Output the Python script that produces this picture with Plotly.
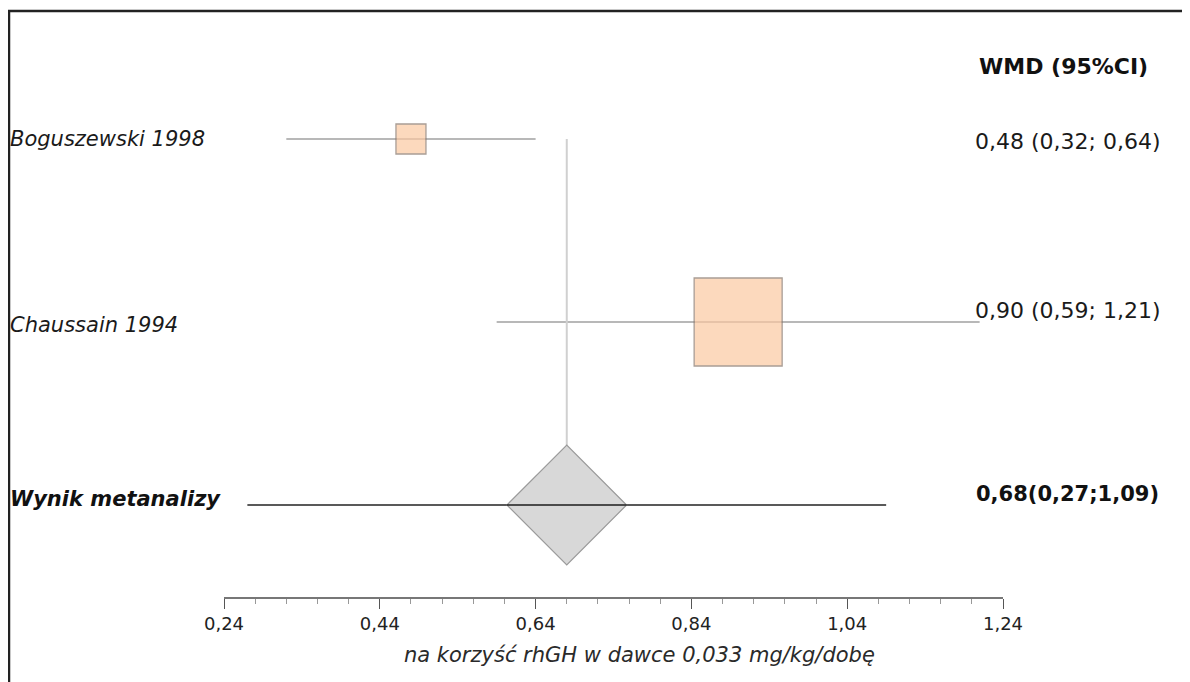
import plotly.graph_objects as go

# ---- data ----
studies = ["Boguszewski 1998", "Chaussain 1994"]
wmd = [0.48, 0.90]
ci_low = [0.32, 0.59]
ci_high = [0.64, 1.21]
study_labels = ["0,48 (0,32; 0,64)", "0,90 (0,59; 1,21)"]
weight_size = [30, 88]  # marker sizes (relative weights)

meta_label = "Wynik metanalizy"
meta_wmd = 0.68
meta_low = 0.27
meta_high = 1.09
meta_text = "0,68(0,27;1,09)"

header = "WMD (95%CI)"
x_title = "na korzyść rhGH w dawce 0,033 mg/kg/dobę"
tick_vals = [0.24, 0.44, 0.64, 0.84, 1.04, 1.24]
tick_text = ["0,24", "0,44", "0,64", "0,84", "1,04", "1,24"]

# ---- layout constants (page has an 8px body margin) ----
OFF = 8
W, H = 1190 - OFF, 682 - OFF
L = 224 - OFF
PLOT_RIGHT = 1003 - OFF
AXIS_Y = 597 - OFF
R = W - PLOT_RIGHT
T = 0
B = H - AXIS_Y
PW = W - L - R
PH = H - T - B

def px(xpix):
    return (xpix - OFF - L) / PW

def py(ypix):
    return (H - B - (ypix - OFF)) / PH

def ry(ypix):
    return ypix - OFF

row_y = [ry(139), ry(322)]
meta_y = ry(505)

FONT = "DejaVu Sans"
fig = go.Figure()

for i in range(len(studies)):
    fig.add_trace(go.Scatter(x=[ci_low[i], ci_high[i]], y=[row_y[i], row_y[i]], mode="lines",
                             line=dict(color="#a0a0a0", width=1.5), hoverinfo="skip", showlegend=False))

fig.add_trace(go.Scatter(x=[meta_low, meta_high], y=[meta_y, meta_y], mode="lines",
                         line=dict(color="#222222", width=1.5), hoverinfo="skip", showlegend=False))

fig.add_trace(go.Scatter(x=[meta_wmd, meta_wmd], y=[row_y[0], meta_y - 60], mode="lines",
                         line=dict(color="#d0d0d0", width=2), hoverinfo="skip", showlegend=False))

fig.add_trace(go.Scatter(x=wmd, y=row_y, mode="markers",
                         marker=dict(symbol="square", size=weight_size, color="#fbc9a2",
                                     line=dict(color="#85756a", width=1.3)),
                         hoverinfo="skip", showlegend=False))

fig.add_trace(go.Scatter(x=[meta_wmd], y=[meta_y], mode="markers",
                         marker=dict(symbol="diamond", size=92, color="rgba(212,212,212,0.9)",
                                     line=dict(color="#999999", width=1.2)),
                         hoverinfo="skip", showlegend=False))
fig.add_trace(go.Scatter(x=[meta_wmd - 0.077, meta_wmd + 0.077], y=[meta_y, meta_y], mode="lines",
                         line=dict(color="#222222", width=1.5), hoverinfo="skip", showlegend=False))

ann = []
label_y = [139, 325]
for i, s in enumerate(studies):
    ann.append(dict(text=f"<i>{s}</i>", x=px(8), y=py(label_y[i]), xref="paper", yref="paper",
                    xanchor="left", yanchor="middle", showarrow=False,
                    font=dict(family=FONT, size=21, color="#1a1a1a")))
value_y = [141, 310]
for i, s in enumerate(study_labels):
    ann.append(dict(text=s, x=px(973), y=py(value_y[i]), xref="paper", yref="paper",
                    xanchor="left", yanchor="middle", showarrow=False,
                    font=dict(family=FONT, size=22, color="#1a1a1a")))
ann.append(dict(text=f"<b><i>{meta_label}</i></b>", x=px(8), y=py(499), xref="paper", yref="paper",
                xanchor="left", yanchor="middle", showarrow=False,
                font=dict(family=FONT, size=21, color="#111111")))
ann.append(dict(text=f"<b>{meta_text}</b>", x=px(974), y=py(494), xref="paper", yref="paper",
                xanchor="left", yanchor="middle", showarrow=False,
                font=dict(family=FONT, size=21, color="#111111")))
ann.append(dict(text=f"<b>{header}</b>", x=px(977), y=py(66), xref="paper", yref="paper",
                xanchor="left", yanchor="middle", showarrow=False,
                font=dict(family=FONT, size=22, color="#111111")))
ann.append(dict(text=f"<i>{x_title}</i>", x=px(639), y=py(655), xref="paper", yref="paper",
                xanchor="center", yanchor="middle", showarrow=False,
                font=dict(family=FONT, size=21, color="#2a2a2a")))

shapes = [
    dict(type="line", xref="paper", yref="paper", x0=px(8), x1=px(1200), y0=py(11), y1=py(11),
         line=dict(color="#222222", width=2.5)),
    dict(type="line", xref="paper", yref="paper", x0=px(9), x1=px(9), y0=py(10), y1=py(700),
         line=dict(color="#222222", width=2.5)),
]

fig.update_layout(
    width=W, height=H, margin=dict(l=L, r=R, t=T, b=B),
    paper_bgcolor="white", plot_bgcolor="white",
    annotations=ann, shapes=shapes,
    xaxis=dict(range=[tick_vals[0], tick_vals[-1]], tickvals=tick_vals, ticktext=tick_text,
               showgrid=False, zeroline=False, showline=True, linecolor="#777777", linewidth=1.5,
               ticks="outside", ticklen=10, tickwidth=1.2, tickcolor="#555555",
               tickfont=dict(family=FONT, size=18, color="#222222"),
               minor=dict(dtick=0.04, tick0=0.24, ticks="outside", ticklen=5, tickcolor="#999999",
                          tickwidth=1, showgrid=False),
               fixedrange=True),
    yaxis=dict(range=[AXIS_Y, 0], visible=False, fixedrange=True),
    showlegend=False,
)

fig.write_html("out.html")
